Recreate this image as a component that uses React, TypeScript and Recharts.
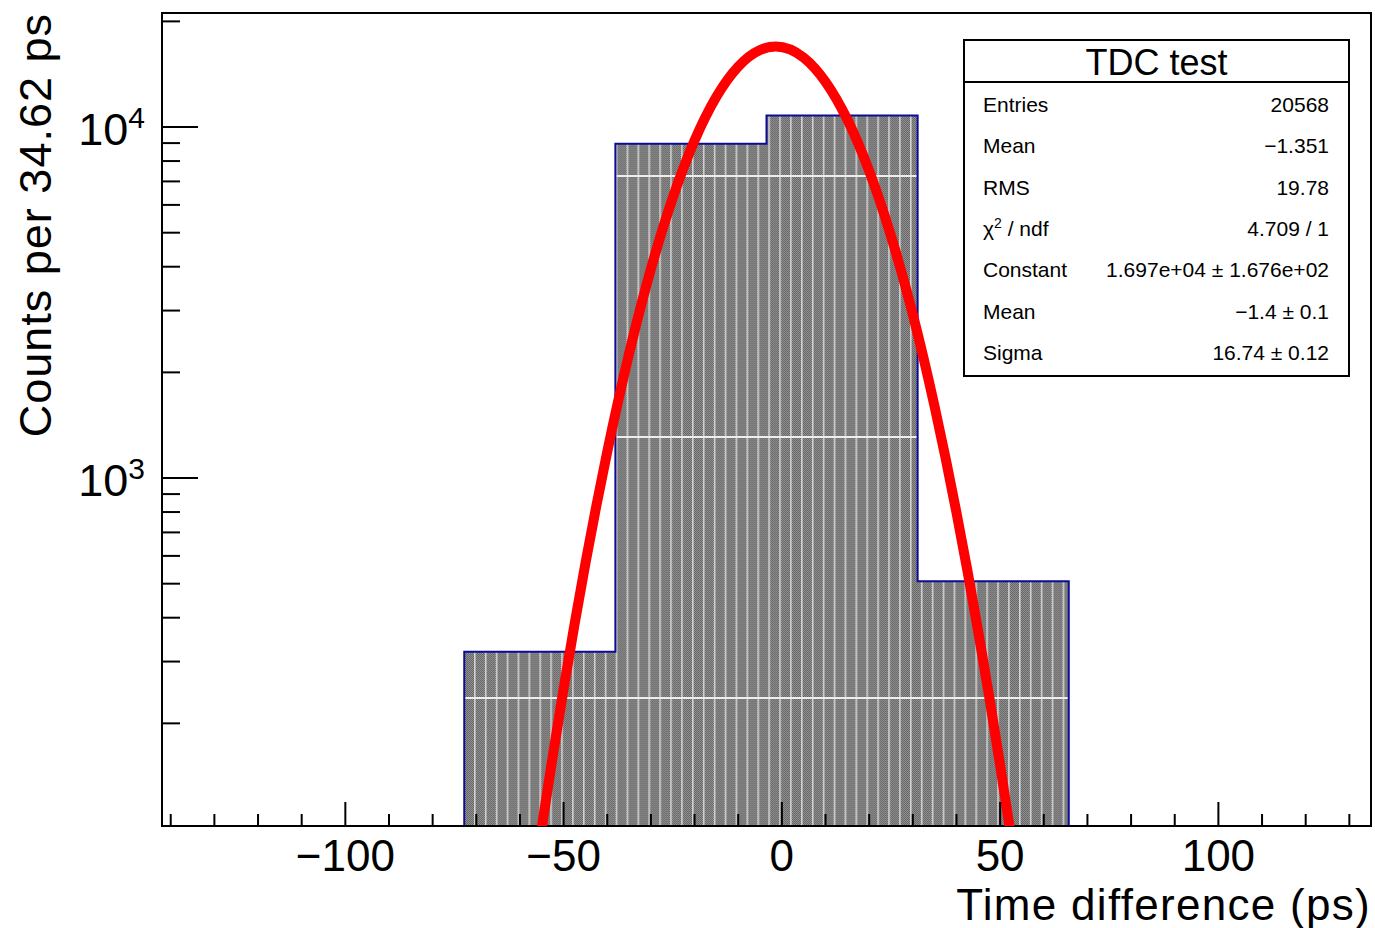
import { ComposedChart, Area, Line, XAxis, YAxis, ReferenceArea } from 'recharts';

const FONT = "'Liberation Sans', Arial, Helvetica, sans-serif";

const X_MIN = -142.0;
const X_MAX = 134.96;
const Y_MIN = 102;
const Y_MAX = 21130;

// histogram: 8 bins of 34.62 ps
const binEdges = [-142.0, -107.38, -72.76, -38.14, -3.52, 31.1, 65.72, 100.34, 134.96];
const binCounts = [0, 0, 320, 8960, 10780, 508, 0, 0];

// gaussian fit curve
const fitX = [-57, -55, -52.5, -50, -47.5, -45, -42.5, -40, -35, -30, -25, -20, -15, -10, -5, -1.4, 5, 10, 15, 20, 25, 30, 35, 37.5, 40, 42.5, 45, 47.5, 50, 52.5, 55];
const fitY = [68, 101, 161, 251, 383, 571, 833, 1189, 2263, 3943, 6282, 9154, 12200, 14872, 16582, 16970, 15774, 13458, 10502, 7496, 4894, 2923, 1596, 1141, 797, 545, 364, 238, 152, 95, 58];

const xTicks = [-140, -130, -120, -110, -100, -90, -80, -70, -60, -50, -40, -30, -20, -10, 0, 10, 20, 30, 40, 50, 60, 70, 80, 90, 100, 110, 120, 130];
const yTicks = [200, 300, 400, 500, 600, 700, 800, 900, 1000, 2000, 3000, 4000, 5000, 6000, 7000, 8000, 9000, 10000, 20000];

const statTitle = 'TDC test';
const statLabels = ['Entries', 'Mean', 'RMS', 'χ2 / ndf', 'Constant', 'Mean', 'Sigma'];
const statValues = ['20568', '−1.351', '19.78', '4.709 / 1', '1.697e+04 ± 1.676e+02', '−1.4 ± 0.1', '16.74 ± 0.12'];

const histData = binEdges.map((x, i) => ({
  x,
  counts: Math.max(binCounts[Math.min(i, binCounts.length - 1)], Y_MIN),
}));
const fitData = fitX.map((x, i) => ({ x, fit: fitY[i] }));

const fmtX = (v: number) => (v < 0 ? `−${Math.abs(v)}` : String(v));

const XTick = ({ x, y, payload }: any) => {
  const v = payload.value;
  const major = v % 50 === 0;
  return (
    <g>
      <line x1={x} x2={x} y1={y} y2={y - (major ? 24 : 12)} stroke="#000" strokeWidth={2} />
      {major && (
        <text x={x} y={y + 45} textAnchor="middle" fontSize={44} fontFamily={FONT} fill="#000">
          {fmtX(v)}
        </text>
      )}
    </g>
  );
};

const YTick = ({ x, y, payload }: any) => {
  const v = payload.value;
  const exp = Math.round(Math.log10(v));
  const major = Math.abs(Math.log10(v) - exp) < 1e-9;
  return (
    <g>
      <line x1={x} x2={x + (major ? 36 : 18)} y1={y} y2={y} stroke="#000" strokeWidth={2} />
      {major && (
        <text x={x - 17} y={y + 18} textAnchor="end" fontSize={45} fontFamily={FONT} fill="#000">
          <tspan>10</tspan>
          <tspan dy={-17} fontSize={30}>{exp}</tspan>
        </text>
      )}
    </g>
  );
};

export default function App() {
  return (
    <div style={{ position: 'absolute', left: 0, top: 0, width: 1375, height: 928, background: '#fff' }}>
      <ComposedChart
        width={1375}
        height={928}
        data={histData}
        margin={{ top: 13, right: 4, bottom: 2, left: 62 }}
      >
        <defs>
          <pattern id="dither" width={2} height={2} patternUnits="userSpaceOnUse">
            <rect width={2} height={2} fill="#9a9a9a" />
            <rect width={1} height={1} fill="#5e5e5e" />
            <rect x={1} y={1} width={1} height={1} fill="#5e5e5e" />
          </pattern>
          <pattern id="histFill" x={5.3} y={175} width={10.9} height={261} patternUnits="userSpaceOnUse">
            <rect width={10.9} height={261} fill="url(#dither)" />
            <rect x={0} width={1.6} height={261} fill="#d2d2d2" />
            <rect y={0} width={10.9} height={2} fill="#eeeeee" />
          </pattern>
        </defs>
        <Area
          dataKey="counts"
          type="stepAfter"
          baseValue={Y_MIN}
          stroke="#0c0c96"
          strokeWidth={2}
          fill="url(#histFill)"
          fillOpacity={1}
          isAnimationActive={false}
          dot={false}
          activeDot={false}
        />
        <Line
          data={fitData}
          dataKey="fit"
          type="monotone"
          stroke="#ff0000"
          strokeWidth={10}
          dot={false}
          activeDot={false}
          isAnimationActive={false}
        />
        <XAxis
          dataKey="x"
          type="number"
          domain={[X_MIN, X_MAX]}
          allowDataOverflow
          ticks={xTicks}
          interval={0}
          tick={<XTick />}
          tickSize={0}
          tickMargin={0}
          tickLine={false}
          axisLine={false}
          height={100}
        />
        <YAxis
          type="number"
          scale="log"
          domain={[Y_MIN, Y_MAX]}
          allowDataOverflow
          ticks={yTicks}
          interval={0}
          tick={<YTick />}
          tickSize={0}
          tickMargin={0}
          tickLine={false}
          axisLine={false}
          width={100}
        />
        <ReferenceArea
          x1={X_MIN}
          x2={X_MAX}
          y1={Y_MIN}
          y2={Y_MAX}
          fill="none"
          stroke="#000"
          strokeWidth={2}
        />
      </ComposedChart>
      <svg
        width={1375}
        height={928}
        style={{ position: 'absolute', left: 0, top: 0, pointerEvents: 'none' }}
        fontFamily={FONT}
      >
        <text transform="translate(51,13) rotate(-90)" textAnchor="end" fontSize={45} letterSpacing={1} fill="#000">
          Counts per 34.62 ps
        </text>
        <text x={1371} y={920} textAnchor="end" fontSize={44} letterSpacing={1.3} fill="#000">
          Time difference (ps)
        </text>
        <rect x={964} y={40} width={385} height={336} fill="#fff" stroke="#000" strokeWidth={2} />
        <line x1={964} x2={1349} y1={82} y2={82} stroke="#000" strokeWidth={2} />
        <text x={1156.5} y={75} textAnchor="middle" fontSize={36} fill="#000">{statTitle}</text>
        {statLabels.map((lab, i) => (
          <g key={i}>
            <text x={983} y={112 + i * 41.3} fontSize={21} fill="#000">
              {lab.startsWith('χ2') ? (
                <>
                  <tspan>χ</tspan>
                  <tspan dy={-8} fontSize={14}>2</tspan>
                  <tspan dy={8}>{lab.slice(2)}</tspan>
                </>
              ) : (
                lab
              )}
            </text>
            <text x={1329} y={112 + i * 41.3} textAnchor="end" fontSize={21} fill="#000">
              {statValues[i]}
            </text>
          </g>
        ))}
      </svg>
    </div>
  );
}
